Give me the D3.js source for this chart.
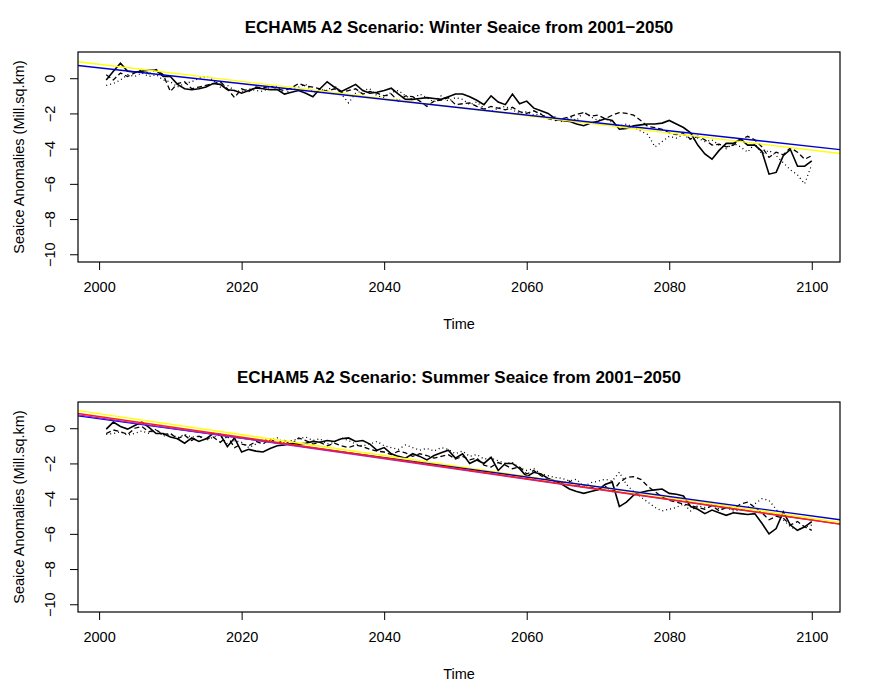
<!DOCTYPE html>
<html>
<head>
<meta charset="utf-8">
<script src="https://cdn.jsdelivr.net/npm/d3@7"></script>
<style>
  body { margin: 0; background: #fff; }
  svg { display: block; }
  text { font-family: "Liberation Sans", Arial, Helvetica, sans-serif; fill: #000; }
</style>
</head>
<body>
<svg id="chart" width="875" height="700"></svg>
<script>
// ---------------- data ----------------
const startYear = 2001;
const xTicks = [2000, 2020, 2040, 2060, 2080, 2100];
const yTicks = [0, -2, -4, -6, -8, -10];
const panelTitles = [
  "ECHAM5 A2 Scenario: Winter Seaice from 2001\u22122050",
  "ECHAM5 A2 Scenario: Summer Seaice from 2001\u22122050"
];

const winterSolid = [
  -0.1,0.4,0.85,0.4,0.35,0.4,0.45,0.45,0.1,0.1,
  -0.35,-0.6,-0.65,-0.6,-0.5,-0.3,-0.35,-0.65,-0.7,-0.85,
  -0.7,-0.55,-0.6,-0.65,-0.65,-0.9,-0.8,-0.7,-0.85,-1.05,
  -0.6,-0.2,-0.5,-0.75,-0.55,-0.35,-0.7,-0.85,-0.8,-0.7,
  -0.57,-0.9,-1.2,-1.2,-1.15,-1.1,-1.15,-1.2,-1.05,-0.9,
  -0.9,-1.05,-1.25,-1.5,-1.0,-1.35,-1.5,-0.9,-1.45,-1.3,
  -1.7,-1.85,-2.0,-2.3,-2.4,-2.45,-2.6,-2.7,-2.55,-2.45,
  -2.3,-2.4,-2.9,-2.85,-2.7,-2.65,-2.6,-2.6,-2.55,-2.4,
  -2.6,-2.8,-3.1,-3.8,-4.3,-4.6,-4.1,-3.7,-3.7,-3.45,
  -3.8,-3.8,-4.15,-5.45,-5.35,-4.4,-4.05,-5.0,-5.0,-4.7
];
const winterDashed = [
  0.2,-0.1,0.3,0.1,0.3,0.5,0.25,0.5,0.2,-0.75,
  -0.3,-0.2,-0.6,-0.5,-0.4,-0.3,-0.2,-0.6,-1.1,-0.6,
  -0.75,-0.5,-0.55,-0.45,-0.6,-0.7,-0.55,-0.3,-0.45,-0.5,
  -0.6,-0.75,-0.6,-0.8,-0.7,-0.6,-0.9,-0.75,-0.85,-1.0,
  -0.9,-1.3,-1.0,-1.05,-1.3,-1.6,-1.3,-1.25,-1.1,-1.5,
  -1.45,-1.4,-1.6,-1.75,-1.6,-1.7,-1.8,-1.65,-1.9,-2.0,
  -1.85,-2.05,-2.3,-2.4,-2.3,-2.2,-2.05,-1.95,-2.15,-2.1,
  -2.3,-2.1,-1.95,-2.0,-2.1,-2.4,-2.75,-2.8,-2.9,-3.1,
  -3.2,-3.15,-3.45,-3.3,-3.5,-3.8,-3.75,-3.9,-3.8,-3.5,
  -3.3,-3.5,-3.9,-4.5,-4.2,-4.35,-3.95,-4.2,-4.6,-4.4
];
const winterDotted = [
  -0.4,-0.3,-0.1,0.2,0.1,0.3,0.1,0.2,-0.1,-0.2,
  -0.5,-0.3,-0.2,0.0,0.1,-0.1,-0.5,-0.4,-0.7,-0.75,
  -0.6,-0.7,-0.75,-0.5,-0.45,-0.9,-0.6,-0.5,-0.35,-0.8,
  -0.65,-0.7,-0.4,-0.9,-1.4,-0.85,-0.7,-0.6,-1.0,-1.1,
  -0.8,-0.7,-1.0,-1.2,-0.9,-1.1,-1.35,-1.0,-1.3,-1.1,
  -1.2,-1.5,-1.35,-1.7,-1.9,-1.7,-1.6,-1.8,-2.0,-1.9,
  -2.1,-2.0,-2.3,-2.2,-2.5,-2.2,-2.4,-1.9,-2.2,-2.4,
  -2.3,-2.5,-2.7,-2.6,-2.8,-3.0,-3.2,-3.9,-3.6,-3.3,
  -3.4,-3.2,-3.5,-3.4,-3.6,-3.5,-3.8,-4.0,-3.7,-3.9,
  -4.2,-3.7,-4.3,-4.1,-4.4,-4.8,-5.2,-5.5,-6.0,-4.9
];

const summerSolid = [
  -0.05,0.35,0.1,-0.05,0.15,0.35,0.05,-0.3,-0.3,-0.5,
  -0.6,-0.85,-0.55,-0.75,-0.6,-0.3,-0.35,-1.05,-0.55,-1.35,
  -1.2,-1.3,-1.35,-1.15,-1.0,-0.95,-0.85,-0.9,-0.85,-0.75,
  -0.8,-0.7,-0.75,-0.6,-0.55,-0.75,-0.7,-0.9,-1.25,-1.1,
  -1.45,-1.6,-1.7,-1.45,-1.6,-1.8,-1.55,-1.4,-1.25,-1.7,
  -1.45,-2.0,-1.8,-2.0,-1.65,-2.4,-2.0,-2.0,-2.3,-2.75,
  -2.5,-2.6,-2.85,-3.0,-3.2,-3.45,-3.6,-3.7,-3.6,-3.5,
  -3.2,-3.05,-4.45,-4.2,-3.8,-3.65,-3.55,-3.5,-3.45,-3.7,
  -3.75,-3.85,-4.45,-4.6,-4.85,-4.65,-4.8,-4.95,-4.8,-4.85,
  -4.9,-4.85,-5.4,-6.0,-5.7,-4.75,-5.5,-5.8,-5.6,-5.3
];
const summerDashed = [
  -0.3,-0.1,-0.2,-0.35,0.0,0.1,-0.2,-0.1,-0.35,-0.3,
  -0.6,-0.4,-0.7,-0.45,-0.6,-0.5,-0.8,-0.45,-1.1,-0.9,
  -1.0,-0.75,-0.9,-0.6,-0.85,-0.7,-0.9,-0.55,-0.7,-0.9,
  -0.8,-1.0,-0.85,-1.0,-1.1,-0.95,-1.05,-1.2,-1.3,-1.35,
  -1.5,-1.3,-1.4,-1.6,-1.45,-1.55,-1.7,-1.6,-1.5,-1.75,
  -1.6,-1.8,-1.7,-2.1,-2.2,-1.95,-2.1,-2.3,-2.2,-2.6,
  -2.4,-2.7,-2.9,-3.0,-3.1,-3.0,-3.3,-3.2,-3.35,-3.5,
  -3.3,-3.6,-3.1,-2.8,-2.75,-2.9,-3.3,-3.6,-3.9,-4.1,
  -4.2,-4.3,-4.4,-4.5,-4.6,-4.4,-4.7,-4.5,-4.6,-4.3,
  -4.2,-4.5,-4.8,-5.2,-5.0,-5.1,-5.5,-5.3,-5.6,-5.8
];
const summerDotted = [
  -0.35,-0.3,-0.2,-0.4,-0.3,-0.15,-0.3,-0.05,-0.45,-0.3,
  -0.55,-0.35,-0.5,-0.45,-0.7,-0.5,-0.4,-0.9,-0.7,-0.8,
  -1.1,-0.9,-0.65,-0.7,-0.55,-0.85,-0.7,-0.6,-0.5,-0.7,
  -0.6,-0.9,-0.8,-0.55,-0.7,-0.9,-1.0,-0.9,-0.75,-1.0,
  -1.1,-1.2,-0.95,-1.1,-1.25,-1.15,-1.3,-1.1,-1.2,-1.45,
  -1.3,-1.6,-1.5,-1.75,-1.7,-1.85,-2.0,-1.95,-2.25,-2.4,
  -2.3,-2.6,-2.7,-2.8,-2.85,-3.0,-2.9,-3.3,-3.1,-3.0,
  -2.9,-3.0,-2.5,-3.2,-3.6,-3.9,-4.2,-4.5,-4.7,-4.6,
  -4.5,-4.3,-4.7,-4.4,-4.5,-4.3,-4.6,-4.5,-4.7,-4.65,
  -4.5,-4.3,-4.0,-4.1,-4.6,-5.2,-5.6,-5.8,-5.6,-5.5
];

// regression lines: [value at year 2000, slope per year]
const winterFits = [[0.795, -0.0488], [0.588, -0.0447]];
const summerFits = [[0.824, -0.05939], [0.537, -0.05518], [0.588, -0.05808], [0.666, -0.05883]];

// ---------------- drawing ----------------
const svg = d3.select("#chart");
const winterFitColors = ["#ffff00", "#0000cd"];
const summerFitColors = ["#ffff00", "#0000cd", "#a020f0", "#ff2000"];
const seriesDash = [null, "5,3", "1,3"];
const FONT = '"Liberation Sans", Arial, sans-serif';

const years = d3.range(startYear, startYear + 100);
const L = 78, R = 840;

function panel(offY, title, series, fits, fitColors) {
  const top = 52 + offY, bottom = 262 + offY;
  const x = d3.scaleLinear().domain([1997.04, 2103.96]).range([L, R]);
  const y = d3.scaleLinear().domain([-10.44, 1.49]).range([bottom, top]);
  const g = svg.append("g");

  const clipId = "clip" + offY;
  g.append("clipPath").attr("id", clipId).append("rect")
    .attr("x", L).attr("y", top).attr("width", R - L).attr("height", bottom - top);

  const plot = g.append("g").attr("clip-path", `url(#${clipId})`);
  const line = d3.line().x((d, i) => x(years[i])).y(d => y(d));
  series.forEach((s, k) => {
    plot.append("path").datum(s)
      .attr("d", line)
      .attr("fill", "none")
      .attr("stroke", "#000")
      .attr("stroke-width", k === 0 ? 1.6 : 1.3)
      .attr("stroke-dasharray", seriesDash[k]);
  });
  fits.forEach((f, k) => {
    const [x0, x1] = x.domain();
    plot.append("line")
      .attr("x1", x(x0)).attr("y1", y(f[0] + f[1] * (x0 - 2000)))
      .attr("x2", x(x1)).attr("y2", y(f[0] + f[1] * (x1 - 2000)))
      .attr("stroke", fitColors[k]).attr("stroke-width", 1.4);
  });

  // box
  g.append("rect").attr("x", L).attr("y", top).attr("width", R - L).attr("height", bottom - top)
    .attr("fill", "none").attr("stroke", "#000").attr("stroke-width", 1.2);

  // axes
  const xa = g.append("g").attr("transform", `translate(0,${bottom})`)
    .call(d3.axisBottom(x).tickValues(xTicks).tickFormat(d3.format("d")).tickSize(8).tickPadding(12));
  xa.select(".domain").remove();
  xa.selectAll("line").attr("stroke", "#000").attr("stroke-width", 1);
  xa.selectAll("text").attr("font-size", 14.5).attr("font-family", FONT);

  const ya = g.append("g").attr("transform", `translate(${L},0)`)
    .call(d3.axisLeft(y).tickValues(yTicks).tickFormat(d => d < 0 ? "\u2212" + Math.abs(d) : d).tickSize(8));
  ya.select(".domain").remove();
  ya.selectAll("line").attr("stroke", "#000").attr("stroke-width", 1);
  ya.selectAll("text")
    .attr("font-size", 14.5).attr("font-family", FONT)
    .attr("x", null).attr("dy", null)
    .attr("text-anchor", "middle")
    .attr("transform", "translate(-23,0) rotate(-90)")
    .attr("y", 0);

  // titles
  g.append("text").attr("x", (L + R) / 2).attr("y", 33 + offY)
    .attr("text-anchor", "middle").attr("font-weight", "bold").attr("font-size", 17)
    .text(title);
  g.append("text").attr("x", (L + R) / 2).attr("y", 329 + offY)
    .attr("text-anchor", "middle").attr("font-size", 14.5).text("Time");
  g.append("text")
    .attr("transform", `translate(24,${(top + bottom) / 2}) rotate(-90)`)
    .attr("text-anchor", "middle").attr("font-size", 14.5)
    .text("Seaice Anomalies (Mill.sq.km)");
}

panel(0, panelTitles[0], [winterSolid, winterDashed, winterDotted], winterFits, winterFitColors);
panel(350, panelTitles[1], [summerSolid, summerDashed, summerDotted], summerFits, summerFitColors);
</script>
</body>
</html>
